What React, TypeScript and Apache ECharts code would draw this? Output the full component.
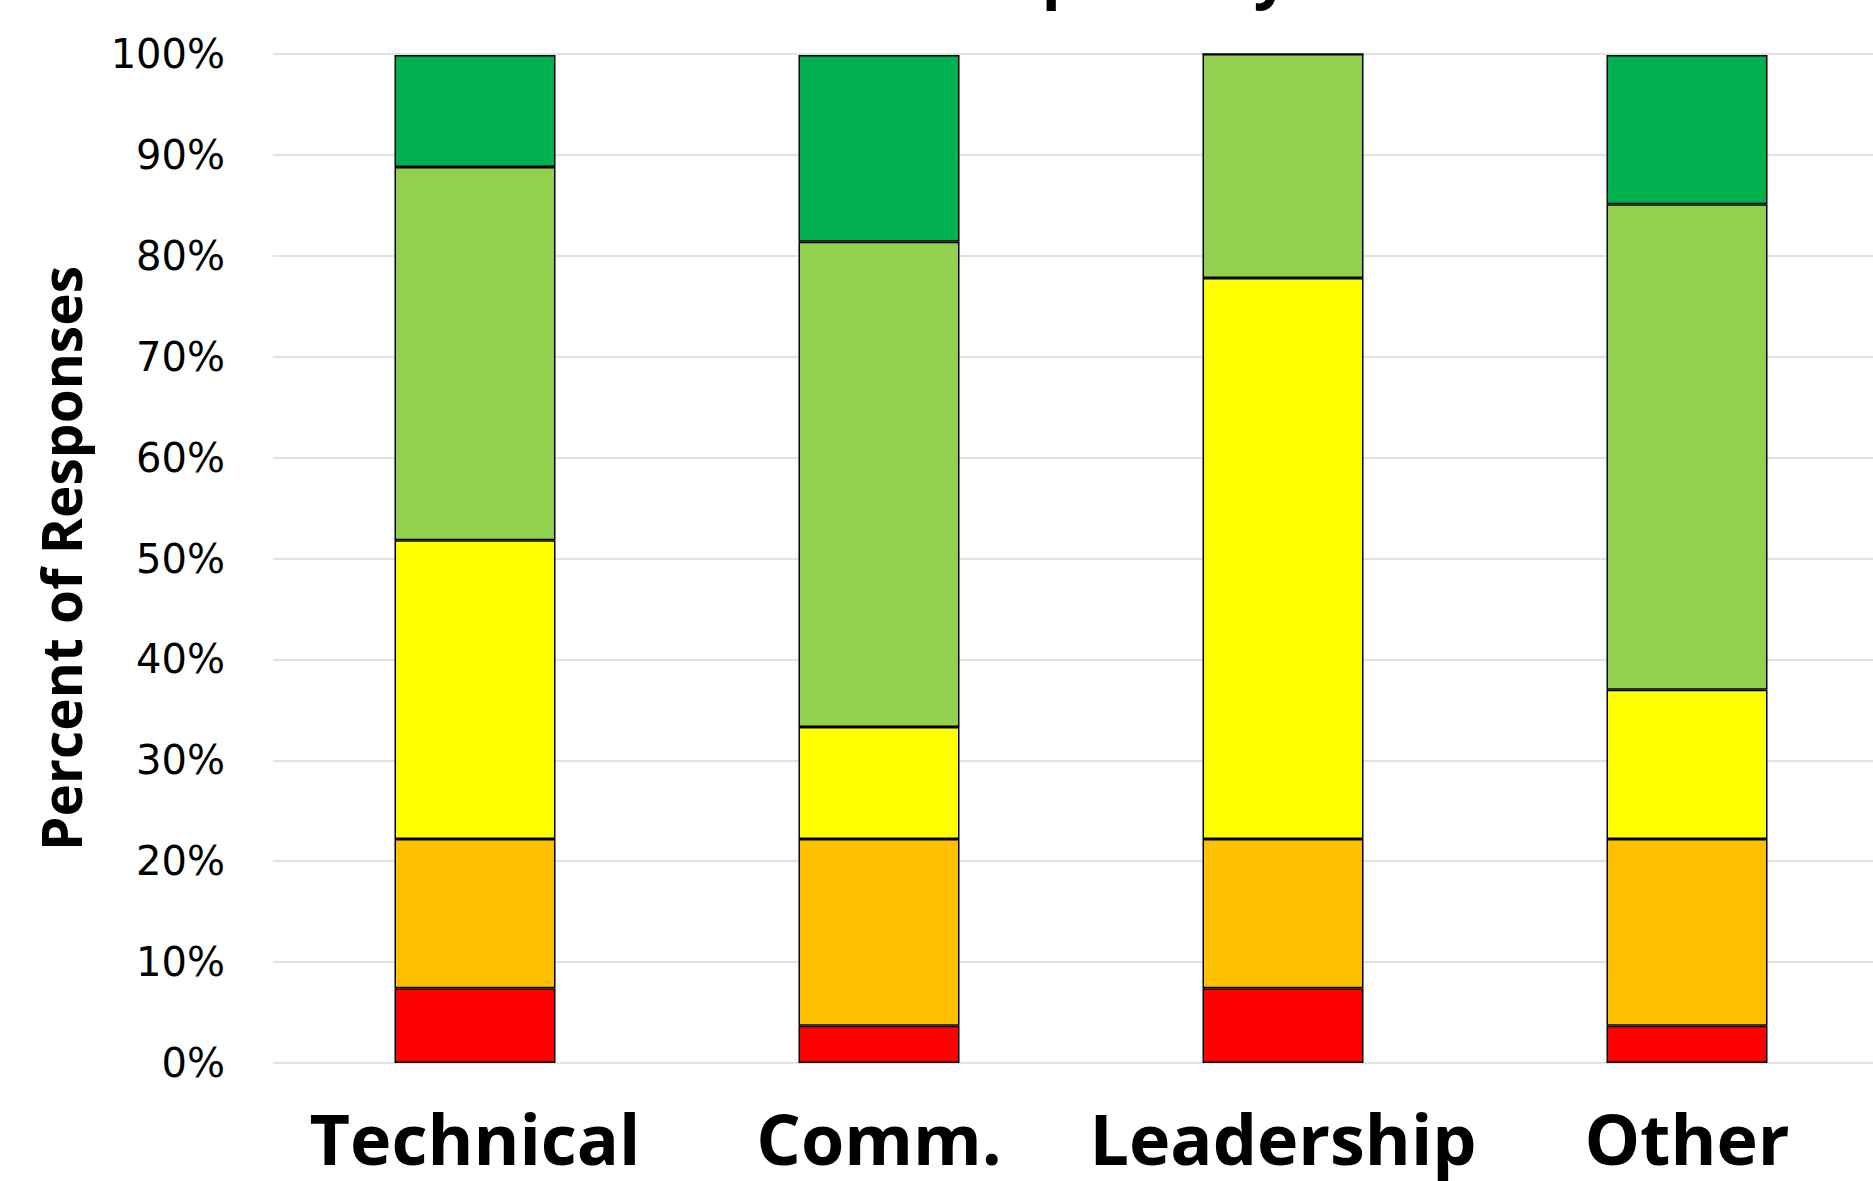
import React, { useEffect, useRef } from "react";
import * as echarts from "echarts";

const categories = ["Technical", "Comm.", "Leadership", "Other"];
const titleText = "Competency";
const yAxisName = "Percent of Responses";
const redValues = [7.4, 3.7, 7.4, 3.7];
const orangeValues = [14.8, 18.5, 14.8, 18.5];
const yellowValues = [29.6, 11.1, 55.6, 14.8];
const lightGreenValues = [37.0, 48.1, 22.2, 48.1];
const greenValues = [11.1, 18.5, 0, 14.8];

const seriesDefs = [
  { name: "1", data: redValues, color: "#FF0000" },
  { name: "2", data: orangeValues, color: "#FFC000" },
  { name: "3", data: yellowValues, color: "#FFFF00" },
  { name: "4", data: lightGreenValues, color: "#92D050" },
  { name: "5", data: greenValues, color: "#00B050" },
];

export default function App() {
  const ref = useRef<HTMLDivElement>(null);
  useEffect(() => {
    if (!ref.current) return;
    const chart = echarts.init(ref.current, null, { renderer: "svg" });
    chart.setOption({
      animation: false,
      backgroundColor: "#ffffff",
      graphic: [
        {
          type: "text",
          x: 1096,
          y: -28,
          style: {
            text: titleText,
            font: "bold 62px 'Open Sans'",
            fill: "#000",
            align: "center",
            verticalAlign: "middle",
          },
        },
      ],
      grid: { left: 273, width: 1616, top: 54, bottom: 118 },
      xAxis: {
        type: "category",
        data: categories,
        axisLine: { show: false },
        axisTick: { show: false },
        axisLabel: {
          interval: 0,
          hideOverlap: false,
          color: "#000",
          fontFamily: "Open Sans",
          fontWeight: "bold",
          fontSize: 70,
          margin: 40,
        },
      },
      yAxis: {
        type: "value",
        min: 0,
        max: 100,
        interval: 10,
        name: yAxisName,
        nameLocation: "middle",
        nameGap: 185,
        nameTextStyle: {
          color: "#000",
          fontFamily: "Open Sans",
          fontWeight: "bold",
          fontSize: 55,
        },
        axisLine: { show: false },
        axisTick: { show: false },
        splitLine: { lineStyle: { color: "#D9D9D9", width: 1.5 } },
        axisLabel: {
          formatter: "{value}%",
          color: "#000",
          fontFamily: "DejaVu Sans",
          fontSize: 40,
          margin: 48,
        },
      },
      series: seriesDefs.map((s) => ({
        type: "bar",
        name: s.name,
        stack: "total",
        data: s.data,
        barWidth: 161,
        itemStyle: { color: s.color, borderColor: "#000", borderWidth: 1.5 },
      })),
    });
    return () => chart.dispose();
  }, []);
  return (
    <div style={{ position: "fixed", left: 0, top: 0, width: 1873, height: 1181, overflow: "hidden" }}>
      <div ref={ref} style={{ width: 1900, height: 1181 }} />
    </div>
  );
}
